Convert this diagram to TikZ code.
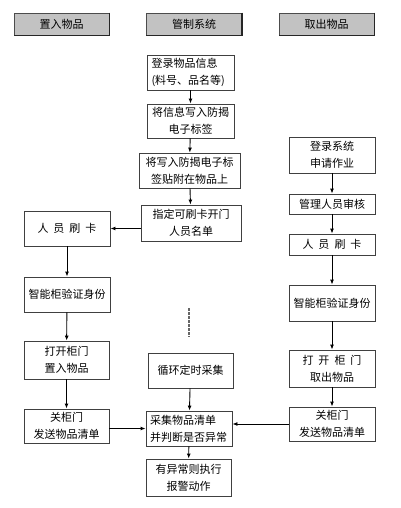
\documentclass[tikz,border=0pt]{standalone}
\usepackage{fontspec}
\setmainfont{Noto Sans CJK SC}
\usepackage{xcolor}
\usepackage{tikz}
\usetikzlibrary{arrows.meta}

\tikzset{
  stepbox/.style={draw=black!75,line width=0.9pt,minimum width=86pt,minimum height=35pt,
    inner sep=2pt,align=center,font=\fontsize{11}{17}\selectfont},
  headbox/.style={draw=black!70,fill=black!24,line width=0.9pt,minimum width=95pt,minimum height=22pt,
    inner sep=0pt,font=\fontsize{11}{13}\selectfont},
  flow/.style={-{Latex[length=5pt,width=4pt]},line width=0.9pt}
}

\begin{document}
\begin{tikzpicture}[x=1pt,y=-1pt]
  \useasboundingbox (0,0) rectangle (400,508);
  % column heads
  \foreach \x/\n/\t in {61.5/hin/置入物品, 194/hsys/管制系统, 326.5/hout/取出物品}{
    \node[headbox] (\n) at (\x,24) {\t};
    \draw[black!85,line width=1.3pt] (\n.north east) -- (\n.south east) -- (\n.south west);
  }
  % middle column
  \node[stepbox,minimum width=87pt,align=left,text width=78pt] (reg) at (190.5,72.5) {登录物品信息\\(料号、品名等)};
  \node[stepbox,minimum width=87pt,minimum height=34pt] (write) at (190.5,121) {将信息写入防揭\\电子标签};
  \node[stepbox,minimum width=101pt] (stick) at (189.5,170.5) {将写入防揭电子标\\签贴附在物品上};
  \node[stepbox,minimum width=100pt,minimum height=36pt] (list) at (191,223) {指定可刷卡开门\\人员名单};
  \node[stepbox,minimum width=85pt] (loop) at (190.5,370.5) {循环定时采集};
  \node[stepbox,align=left,text width=78pt] (scan) at (189,428.5) {采集物品清单\\并判断是否异常};
  \node[stepbox,minimum width=85pt,minimum height=37pt] (alarm) at (188.5,477.5) {有异常则执行\\报警动作};
  % left column
  \node[stepbox] (incard) at (67,228.5) {人\hspace{5pt}员\hspace{5pt}刷\hspace{5pt}卡};
  \node[stepbox] (incheck) at (67,294.5) {智能柜验证身份};
  \node[stepbox,minimum width=85pt,minimum height=38pt] (inopen) at (66.5,360) {打开柜门\\置入物品};
  \node[stepbox,minimum width=85pt,minimum height=34pt] (inclose) at (66.5,426) {关柜门\\发送物品清单};
  % right column
  \node[stepbox,minimum height=36pt] (apply) at (332,155) {登录系统\\申请作业};
  \node[stepbox,minimum height=20pt] (audit) at (332,204) {管理人员审核};
  \node[stepbox,minimum height=21pt] (outcard) at (332,244.5) {人\hspace{5pt}员\hspace{5pt}刷\hspace{5pt}卡};
  \node[stepbox,minimum height=36pt] (outcheck) at (332,303) {智能柜验证身份};
  \node[stepbox,minimum height=37pt] (outopen) at (332,368.5) {打\hspace{5pt}开\hspace{5pt}柜\hspace{5pt}门\\取出物品};
  \node[stepbox,minimum height=34pt] (outclose) at (332,424) {关柜门\\发送物品清单};
  % connectors
  \draw[flow] (reg) -- (write);
  \draw[flow] (write) -- (stick);
  \draw[flow] (stick) -- (list);
  \draw[flow] (list.west |- incard.east) -- (incard.east);
  \draw[flow] (incard) -- (incheck);
  \draw[flow] (incheck) -- (inopen);
  \draw[flow] (inopen) -- (inclose);
  \draw[flow] (inclose.east |- scan.west) -- (scan.west);
  \draw[flow] (apply) -- (audit);
  \draw[flow] (audit) -- (outcard);
  \draw[flow] (outcard) -- (outcheck);
  \draw[flow] (outcheck) -- (outopen);
  \draw[flow] (outopen) -- (outclose);
  \draw[flow] (outclose.west) -- (scan.east |- outclose.west);
  \draw[flow] (loop) -- (scan);
  \draw[flow] (scan) -- (alarm);
  \coordinate (dottop) at (189,308);
  \coordinate (dotend) at (189,337);
  \draw[black!60,line width=1.2pt,dash pattern=on 2.5pt off 1.5pt] (dottop) -- (dotend);
\end{tikzpicture}
\end{document}
